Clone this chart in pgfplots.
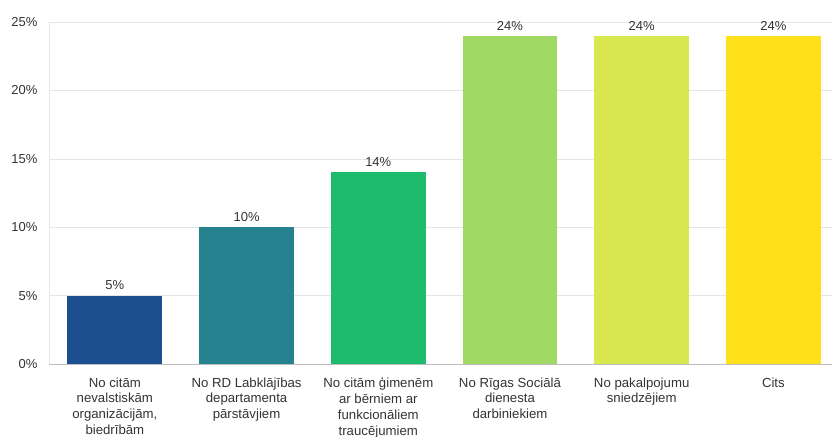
\documentclass[border=0pt]{standalone}
\usepackage{pgfplots}
\pgfplotsset{compat=1.18}
\usepackage{fontspec}
\setmainfont{Liberation Sans}
\definecolor{c1}{HTML}{1B4F8F}
\definecolor{c2}{HTML}{25838F}
\definecolor{c3}{HTML}{1FBB6D}
\definecolor{c4}{HTML}{9FD862}
\definecolor{c5}{HTML}{DAE850}
\definecolor{c6}{HTML}{FEE11B}
\definecolor{txt}{HTML}{333333}
\begin{document}
\begin{tikzpicture}
\useasboundingbox (-49bp,-73bp) rectangle (783bp,364bp);
\begin{axis}[
  at={(0,0)}, anchor=south west,
  scale only axis, width=783bp, height=342bp,
  xmin=-0.5, xmax=5.445, ymin=0, ymax=25,
  axis x line*=bottom, axis y line*=left,
  x axis line style={draw=black!25, line width=0.8pt, -},
  y axis line style={draw=black!10, line width=0.8pt, -},
  ytick={0,5,10,15,20,25},
  yticklabel={\pgfmathprintnumber{\tick}\%},
  ymajorgrids, grid style={draw=black!10, line width=0.6pt},
  major tick length=0pt,
  xtick={0,1,2,3,4,5},
  xticklabels={{No citām\\nevalstiskām\\organizācijām,\\biedrībām},
    {No RD Labklājības\\departamenta\\pārstāvjiem},
    {No citām ģimenēm\\ar bērniem ar\\funkcionāliem\\traucējumiem},
    {No Rīgas Sociālā\\dienesta\\darbiniekiem},
    {No pakalpojumu\\sniedzējiem},
    {Cits}},
  xticklabel style={align=center, anchor=north, yshift=-10bp, font=\fontsize{13.2bp}{15.8bp}\selectfont, text=txt},
  yticklabel style={font=\fontsize{13bp}{14bp}\selectfont, text=txt, xshift=-8bp},
  /pgf/number format/assume math mode=true,
  nodes near coords={\pgfmathprintnumber{\pgfplotspointmeta}\%},
  nodes near coords style={font=\fontsize{13bp}{14bp}\selectfont, text=txt, yshift=2bp},
  bar width=0.72,
  clip=false,
]
\addplot[ybar, draw=none, fill=c1] coordinates {(0,5)};
\addplot[ybar, draw=none, fill=c2] coordinates {(1,10)};
\addplot[ybar, draw=none, fill=c3] coordinates {(2,14)};
\addplot[ybar, draw=none, fill=c4] coordinates {(3,24)};
\addplot[ybar, draw=none, fill=c5] coordinates {(4,24)};
\addplot[ybar, draw=none, fill=c6] coordinates {(5,24)};
\end{axis}
\end{tikzpicture}
\end{document}
